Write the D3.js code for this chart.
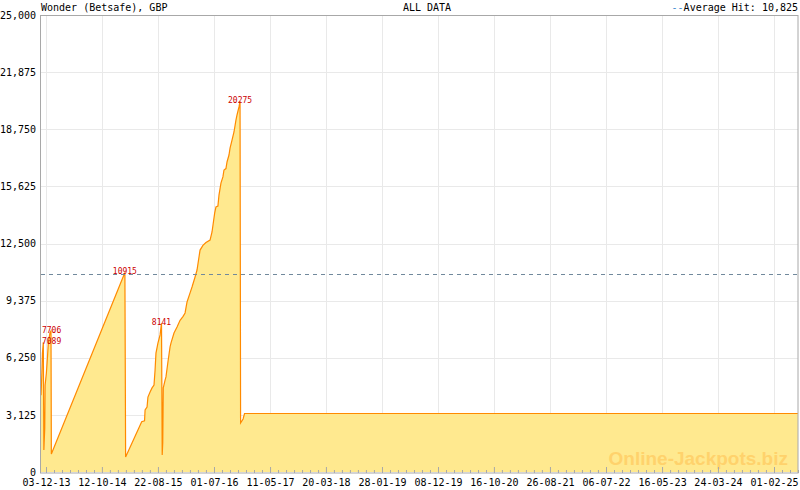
<!DOCTYPE html>
<html>
<head>
<meta charset="utf-8">
<script src="https://cdn.jsdelivr.net/npm/d3@7"></script>
<style>
  body { margin: 0; background: #fff; }
  text { font-family: "DejaVu Sans Mono", monospace; font-size: 10px; }
</style>
</head>
<body>
<svg id="chart" width="800" height="490"></svg>
<script>
// DATA
const dates = [
  "2013-11-05", "2013-11-07", "2013-11-10", "2013-11-13", "2013-11-18", "2013-11-21",
  "2013-11-26", "2013-11-28", "2013-12-05", "2013-12-11", "2013-12-16", "2013-12-25",
  "2013-12-31", "2014-01-02",
  "2015-02-18", "2015-02-22", "2015-05-23", "2015-06-08", "2015-06-11", "2015-06-22",
  "2015-06-27", "2015-07-09", "2015-07-20", "2015-07-31", "2015-08-06", "2015-08-11",
  "2015-08-22", "2015-09-03", "2015-09-11", "2015-09-15", "2015-09-18", "2015-09-21",
  "2015-10-01", "2015-10-06", "2015-10-17", "2015-10-29", "2015-11-03", "2015-11-20",
  "2015-12-07", "2015-12-24", "2016-01-09", "2016-01-21", "2016-02-01", "2016-02-18",
  "2016-02-29", "2016-03-17", "2016-03-28", "2016-04-08", "2016-04-14", "2016-04-30",
  "2016-05-17", "2016-06-09", "2016-06-20", "2016-07-05", "2016-07-12", "2016-07-23",
  "2016-07-29", "2016-08-09", "2016-08-20", "2016-08-26", "2016-09-06", "2016-09-12",
  "2016-09-23", "2016-09-29", "2016-10-10", "2016-10-21", "2016-11-01", "2016-11-07",
  "2016-11-18", "2016-11-24", "2016-11-27", "2016-12-11", "2016-12-19", "2025-06-15"
];
const values = [
  4200, 4650, 5450, 6500, 7089, 1200,
  2400, 4750, 5400, 6250, 7050, 7600,
  7706, 985,
  10915, 820, 2750, 2800, 3390, 3550,
  4100, 4380, 4600, 4760, 5580, 6500,
  7050, 7500, 8141, 930, 1600, 4600,
  5030, 5200, 6020, 6840, 7050, 7600,
  7930, 8300, 8500, 8700, 9300, 9800,
  10120, 10670, 11050, 11760, 12140, 12400,
  12550, 12690, 13130, 14170, 14500, 14550,
  15150, 15800, 16140, 16520, 16600, 16960,
  17340, 17720, 18160, 18600, 19250, 19530,
  19970, 20275, 2680, 2900, 3200, 3200
];
const peakValues = [7089, 7706, 10915, 8141, 20275];
const xTickLabels = [
  "03-12-13", "12-10-14", "22-08-15", "01-07-16", "11-05-17", "20-03-18", "28-01-19",
  "08-12-19", "16-10-20", "26-08-21", "06-07-22", "16-05-23", "24-03-24", "01-02-25"
];
const yTicks = [0, 3125, 6250, 9375, 12500, 15625, 18750, 21875, 25000];
const averageHit = 10825;
const title = "Wonder (Betsafe), GBP";
const subtitle = "ALL DATA";

// CANVAS SETUP
const svg = d3.select("#chart");
const plotLeft = 41, plotRight = 798, plotTop = 15, plotBottom = 472;

const parseIso = d3.timeParse("%Y-%m-%d"),
  parseTick = d3.timeParse("%d-%m-%y");

const data = dates.map((d, i) => ({ date: parseIso(d), value: values[i] }));
const tickDates = xTickLabels.map(parseTick);

const x = d3.scaleTime()
  .domain([tickDates[0], tickDates[tickDates.length - 1]])
  .range([46, 774]);
const y = d3.scaleLinear().domain([0, 25000]).range([plotBottom, plotTop]);

// minor ticks: 7 steps between each pair of labelled ticks
const step = (+tickDates[tickDates.length - 1] - +tickDates[0]) / (tickDates.length - 1);
const minorDates = [];
for (let i = 0; i < tickDates.length; i++) {
  for (let k = 1; k < 7; k++) {
    const t = new Date(+tickDates[i] + step * k / 7);
    if (x(t) < plotRight) minorDates.push(t);
  }
}

// GRID
svg.append("g")
  .selectAll("line")
  .data(yTicks.slice(1, -1))
  .join("line")
  .attr("x1", plotLeft).attr("x2", plotRight)
  .attr("y1", (d) => Math.round(y(d)) + 0.5).attr("y2", (d) => Math.round(y(d)) + 0.5)
  .attr("stroke", "#e9e9e9");

svg.append("g")
  .selectAll("line")
  .data(tickDates)
  .join("line")
  .attr("x1", (d) => Math.round(x(d)) + 0.5).attr("x2", (d) => Math.round(x(d)) + 0.5)
  .attr("y1", plotTop).attr("y2", plotBottom)
  .attr("stroke", "#e9e9e9");

// AREA + LINE
svg.append("clipPath").attr("id", "plot")
  .append("rect")
  .attr("x", plotLeft).attr("y", plotTop)
  .attr("width", plotRight - plotLeft).attr("height", plotBottom - plotTop);

const area = d3.area()
  .x((d) => x(d.date))
  .y0(y(0))
  .y1((d) => y(d.value));
const line = d3.line()
  .x((d) => x(d.date))
  .y((d) => y(d.value));

svg.append("path")
  .datum(data)
  .attr("clip-path", "url(#plot)")
  .attr("d", area)
  .attr("fill", "#ffe98f");

// watermark
svg.append("text")
  .attr("x", 788).attr("y", 465)
  .attr("text-anchor", "end")
  .style("font-family", "'Liberation Sans', Arial, sans-serif")
  .style("font-size", "19px")
  .style("font-weight", "bold")
  .attr("fill", "#ffd26c")
  .text("Online-Jackpots.biz");

svg.append("path")
  .datum(data)
  .attr("clip-path", "url(#plot)")
  .attr("d", line)
  .attr("fill", "none")
  .attr("stroke", "#ff8a00")
  .attr("stroke-width", 1.2);

// average line
svg.append("line")
  .attr("x1", plotLeft).attr("x2", plotRight)
  .attr("y1", Math.round(y(averageHit)) + 0.5).attr("y2", Math.round(y(averageHit)) + 0.5)
  .attr("stroke", "#71899c")
  .attr("stroke-dasharray", "4,4");

// FRAME
svg.append("rect")
  .attr("x", plotLeft - 0.5).attr("y", plotTop + 0.5)
  .attr("width", plotRight - plotLeft + 0.5).attr("height", plotBottom - plotTop + 0.5)
  .attr("fill", "none")
  .attr("stroke", "#a8a8a8");

// AXES
const gx = svg.append("g")
  .attr("transform", `translate(0,${plotBottom + 1})`)
  .call(d3.axisBottom(x)
    .tickValues(tickDates)
    .tickFormat((d, i) => xTickLabels[i])
    .tickSizeInner(-6).tickSizeOuter(0).tickPadding(6));
gx.select(".domain").remove();
gx.selectAll("line").attr("stroke", "#a8a8a8");
gx.selectAll("text")
  .attr("fill", "#000")
  .style("font-family", "'DejaVu Sans Mono', monospace").style("font-size", "10px");

const gxm = svg.append("g")
  .attr("transform", `translate(0,${plotBottom + 1})`)
  .call(d3.axisBottom(x).tickValues(minorDates).tickFormat("").tickSizeInner(-3).tickSizeOuter(0));
gxm.select(".domain").remove();
gxm.selectAll("line").attr("stroke", "#a8a8a8");

const gy = svg.append("g")
  .attr("transform", `translate(${plotLeft - 1},0)`)
  .call(d3.axisLeft(y).tickValues(yTicks).tickFormat(d3.format(",")).tickSize(0).tickPadding(4));
gy.select(".domain").remove();
gy.selectAll("text")
  .attr("fill", "#000")
  .style("font-family", "'DejaVu Sans Mono', monospace").style("font-size", "10px");

// PEAK LABELS
const peaks = peakValues.map((v) => data.find((d) => d.value === v));
svg.append("g")
  .selectAll("text")
  .data(peaks)
  .join("text")
  .attr("x", (d) => Math.max(x(d.date), plotLeft + String(d.value).length * 2.4 + 1))
  .attr("y", (d) => y(d.value) + 2)
  .attr("text-anchor", "middle")
  .attr("fill", "#cc0000")
  .style("font-size", "8px")
  .text((d) => d.value);

// TITLES
svg.append("text").attr("x", plotLeft).attr("y", 11).text(title);
svg.append("text").attr("x", 427).attr("y", 11).attr("text-anchor", "middle").text(subtitle);
const legend = svg.append("text").attr("x", plotRight).attr("y", 11).attr("text-anchor", "end");
legend.append("tspan").attr("fill", "#3d8ed0").text("--");
legend.append("tspan").attr("fill", "#000").text("Average Hit: " + d3.format(",")(averageHit));
</script>
</body>
</html>
